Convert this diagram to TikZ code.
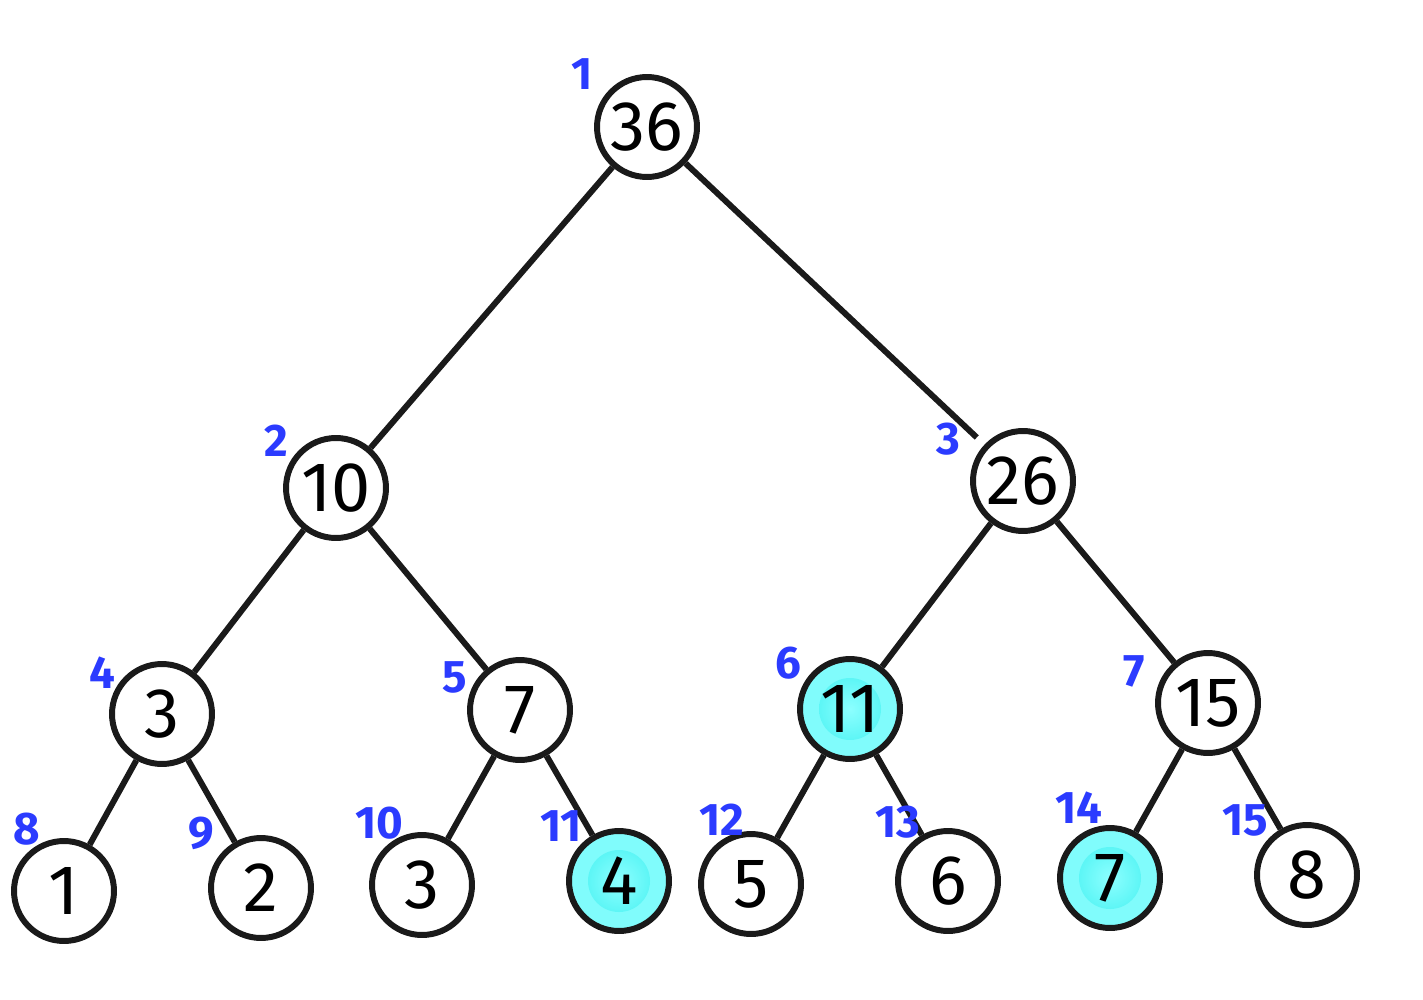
\documentclass[tikz,border=0pt]{standalone}
\usepackage{fontspec}
\setmainfont{Fira Sans}
\definecolor{ink}{HTML}{1A1A1A}
\definecolor{lblue}{HTML}{2B3BFF}
\definecolor{cyout}{HTML}{80FCFC}
\definecolor{cymid}{HTML}{40F0F0}
\definecolor{cyin}{HTML}{8CFFFF}
\begin{document}
\begin{tikzpicture}[x=0.02cm,y=-0.02cm,
  tnode/.style={circle,draw=ink,line width=3.4pt,minimum size=2cm,inner sep=0pt,fill=white,font=\fontsize{40}{40}\selectfont},
  hnode/.style={tnode,fill=cyout,path picture={\shade[inner color=cyin,outer color=cymid] (path picture bounding box.center) circle (0.62cm);}},
  idx/.style={text=lblue,font=\fontsize{26}{26}\selectfont\bfseries},
  edge/.style={draw=ink,line width=3.4pt}]
\useasboundingbox (0,0) rectangle (1423,1000);
% nodes
\node[tnode] (n1) at (647,127) {36};
\node[tnode] (n2) at (336,488) {10};
\node[tnode] (n3) at (1023,481) {26};
\node[tnode] (n4) at (162,714) {3};
\node[tnode] (n5) at (520,710) {7};
\node[hnode] (n6) at (850,709) {11};
\node[tnode] (n7) at (1208,703) {15};
\node[tnode] (n8) at (64,891) {1};
\node[tnode] (n9) at (261,888) {2};
\node[tnode] (n10) at (422,885) {3};
\node[hnode] (n11) at (619,881) {4};
\node[tnode] (n12) at (751,884) {5};
\node[tnode] (n13) at (948,881) {6};
\node[hnode] (n14) at (1110,878) {7};
\node[tnode] (n15) at (1307,875) {8};
% edges
\draw[edge] (n1) -- (n2);
\draw[edge,shorten >=6pt] (n1) -- (n3);
\draw[edge] (n2) -- (n4);
\draw[edge] (n2) -- (n5);
\draw[edge] (n3) -- (n6);
\draw[edge] (n3) -- (n7);
\draw[edge] (n4) -- (n8);
\draw[edge] (n4) -- (n9);
\draw[edge] (n5) -- (n10);
\draw[edge] (n5) -- (n11);
\draw[edge] (n6) -- (n12);
\draw[edge] (n6) -- (n13);
\draw[edge] (n7) -- (n14);
\draw[edge] (n7) -- (n15);
% index labels
\node[idx] (i1) at (582,74) {1};
\node[idx] (i2) at (276,441) {2};
\node[idx] (i3) at (948,439) {3};
\node[idx] (i4) at (102,673) {4};
\node[idx] (i5) at (455,677) {5};
\node[idx] (i6) at (788,663) {6};
\node[idx] (i7) at (1134,671) {7};
\node[idx] (i8) at (27,829) {8};
\node[idx] (i9) at (201,833) {9};
\node[idx] (i10) at (379,823) {10};
\node[idx] (i11) at (561,826) {11};
\node[idx] (i12) at (722,820) {12};
\node[idx] (i13) at (898,822) {13};
\node[idx] (i14) at (1079,808) {14};
\node[idx] (i15) at (1245,820) {15};
\end{tikzpicture}
\end{document}
